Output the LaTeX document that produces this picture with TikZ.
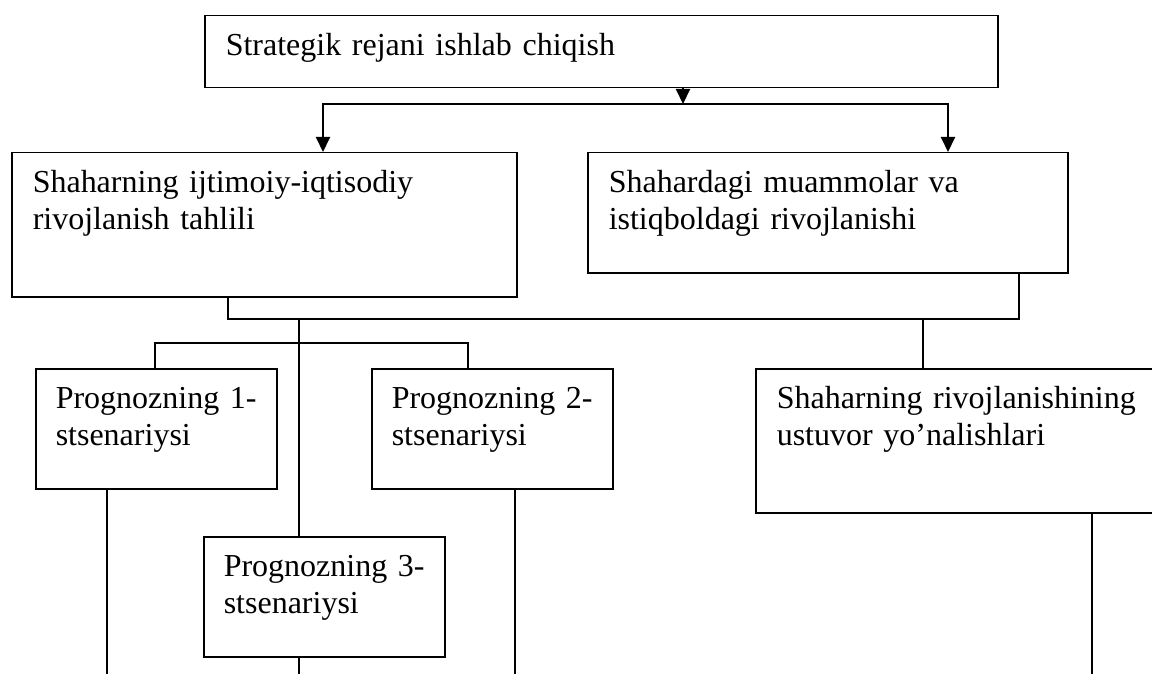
\documentclass[tikz,border=0pt]{standalone}
\usepackage{fontspec}
\setmainfont{Liberation Serif}
\usepackage{tikz}
\usetikzlibrary{arrows.meta}

\begin{document}
\begin{tikzpicture}[
        x = 1pt, y = -1pt, % pixel grid, y downwards
        > = {Triangle[width=14pt,length=15pt]}, % arrow head style
        line width = 1.5pt, % line style
        blok/.style = {draw, anchor=north west, align=left,
            inner xsep=21pt, inner ysep=12pt, text height=28pt,
            font=\fontsize{32}{37}\selectfont},
        ssenariy/.style = {blok, inner xsep=20pt, text width=201pt, text depth=68pt},
    ]
        \useasboundingbox (0,0) rectangle (1152,674);

        % Draw the boxes
        \node[blok, text width=751pt, text depth=20pt] (reja) at (204,15)
            {Strategik rejani ishlab chiqish};
        \node[blok, text width=463pt, text depth=92pt] (tahlil) at (11,152)
            {Shaharning ijtimoiy-iqtisodiy\\rivojlanish tahlili};
        \node[blok, text width=438pt, text depth=68pt] (muammo) at (587,152)
            {Shahardagi muammolar va\\istiqboldagi rivojlanishi};
        \node[ssenariy] (s1) at (35,368) {Prognozning 1-\\stsenariysi};
        \node[ssenariy] (s2) at (371,368) {Prognozning 2-\\stsenariysi};
        \node[ssenariy] (s3) at (203,536) {Prognozning 3-\\stsenariysi};
        \node[blok, text width=360pt, text depth=92pt] (ustuvor) at (755,368)
            {Shaharning rivojlanishining\\ustuvor yo’nalishlari};

        % Branch points
        \coordinate (ayri) at (683,104);
        \coordinate (ayriA) at (323,104);
        \coordinate (ayriB) at (948,104);
        \coordinate (bogA) at (228,319);
        \coordinate (bogB) at (1019,319);
        \coordinate (markaz) at (299,319);
        \coordinate (ung) at (923,319);
        \coordinate (o1) at (155,343);
        \coordinate (o2) at (468,343);
        \foreach \i/\x in {1/107, 2/515, 3/299, 4/1092} {
            \coordinate (e\i) at (\x,677);
        }

        % Draw the edges
        \draw[->, line width=2pt] (reja.south -| ayri) -- (ayri);
        \draw[<->, line width=2pt] (ayriA |- tahlil.north) -- (ayriA)
            -- (ayriB) -- (ayriB |- muammo.north);
        \draw (bogA |- tahlil.south) -- (bogA) -- (bogB) -- (bogB |- muammo.south);
        \draw (markaz) -- (markaz |- s3.north);
        \draw (o1 |- s1.north) -- (o1) -- (o2) -- (o2 |- s2.north);
        \draw (ung) -- (ung |- ustuvor.north);
        \foreach \b/\e in {s1/e1, s2/e2, s3/e3, ustuvor/e4} {
            \draw (\e |- \b.south) -- (\e);
        }
    \end{tikzpicture}
\end{document}
